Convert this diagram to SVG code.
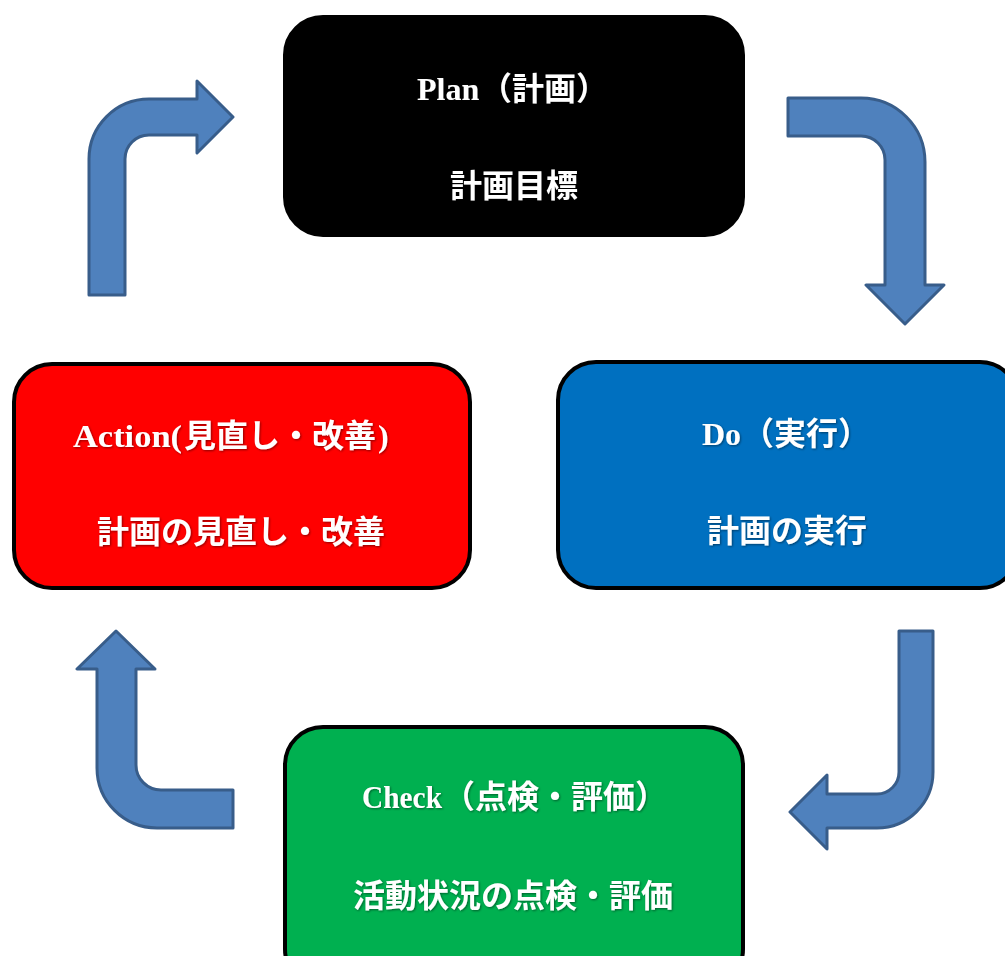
<svg xmlns="http://www.w3.org/2000/svg" width="1005" height="956" viewBox="0 0 1005 956">
<defs>
<style>
.box{stroke:#000;stroke-width:4}
.arrow{fill:#4F81BD;stroke:#385D8A;stroke-width:3;stroke-linejoin:round}
.t{font-family:"Noto Sans CJK JP",sans-serif;font-weight:bold;font-size:32px;fill:#fff;filter:url(#sh)}
.lat{font-family:"Liberation Serif",serif;font-weight:bold;font-size:32px;fill:#fff;filter:url(#sh)}
</style>
<filter id="sh" x="-5%" y="-20%" width="110%" height="140%">
<feDropShadow dx="1" dy="1" stdDeviation="0.8" flood-color="#000" flood-opacity="0.45"/>
</filter>
</defs>
<rect width="1005" height="956" fill="#fff"/>
<g id="connectors">
<path class="arrow" d="M 89 295 L 89 159 A 60 60 0 0 1 149 99 L 197 99 L 197 81 L 233 117 L 197 153 L 197 135 L 149 135 A 24 24 0 0 0 125 159 L 125 295 Z"/>
<path class="arrow" d="M 788 98 L 861 98 A 64 64 0 0 1 925 162 L 925 285 L 944 285 L 905 324 L 866 285 L 885 285 L 885 160 A 24 24 0 0 0 861 136 L 788 136 Z"/>
<path class="arrow" d="M 899 631 L 933 631 L 933 772 A 56 56 0 0 1 877 828 L 827 828 L 827 849 L 790 812 L 827 775 L 827 794 L 877 794 A 22 22 0 0 0 899 772 Z"/>
<path class="arrow" d="M 233 790 L 161 790 A 25 25 0 0 1 136 765 L 136 669 L 155 669 L 116 631 L 77 669 L 97 669 L 97 768 A 60 60 0 0 0 157 828 L 233 828 Z"/>
</g>
<g id="plan">
<rect class="box" x="285" y="17" width="458" height="218" rx="38" fill="#000"/>
<text class="lat" x="417" y="100">Plan</text>
<text class="t" x="480" y="100">（計画）</text>
<text class="t" x="450" y="197">計画目標</text>
</g>
<g id="do">
<rect class="box" x="558" y="362" width="460" height="226" rx="38" fill="#0070C0"/>
<text class="lat" x="702" y="445">Do</text>
<text class="t" x="742" y="445">（実行）</text>
<text class="t" x="707" y="542">計画の実行</text>
</g>
<g id="check">
<rect class="box" x="285" y="727" width="458" height="260" rx="38" fill="#00B050"/>
<text class="lat" x="362" y="808" textLength="80" lengthAdjust="spacingAndGlyphs">Check</text>
<text class="t" x="443" y="808">（点検・評価）</text>
<text class="t" x="353" y="907">活動状況の点検・評価</text>
</g>
<g id="action">
<rect class="box" x="14" y="364" width="456" height="224" rx="38" fill="#FF0000"/>
<text class="lat" x="73" y="447" textLength="109" lengthAdjust="spacingAndGlyphs">Action(</text>
<text class="t" x="184" y="447">見直し・改善</text>
<text class="lat" x="378" y="447">)</text>
<text class="t" x="97" y="543">計画の見直し・改善</text>
</g>
</svg>
